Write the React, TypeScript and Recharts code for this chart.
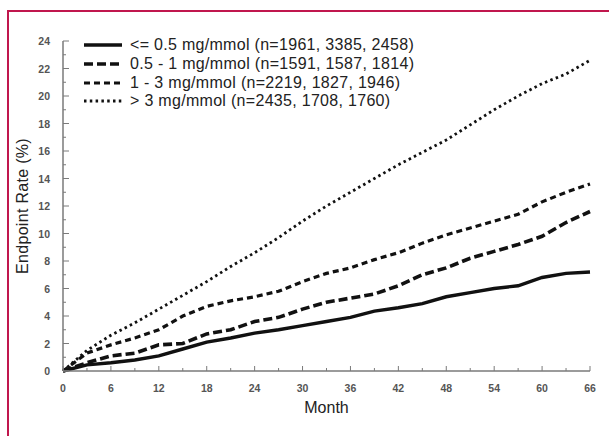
import React from "react";
import {LineChart, Line, XAxis, YAxis, Legend, Label} from "recharts";

// months since randomisation
const months = [0, 3, 6, 9, 12, 15, 18, 21, 24, 27, 30, 33, 36, 39, 42, 45, 48, 51, 54, 57, 60, 63, 66];

// cumulative endpoint rate (%) per albuminuria group
const rateLow = [0, 0.45, 0.6, 0.8, 1.1, 1.6, 2.1, 2.4, 2.75, 3.0, 3.3, 3.6, 3.9, 4.35, 4.6, 4.9, 5.4, 5.7, 6.0, 6.2, 6.8, 7.1, 7.2];
const rateMid = [0, 0.6, 1.1, 1.3, 1.9, 2.0, 2.7, 3.0, 3.6, 3.9, 4.5, 5.0, 5.3, 5.6, 6.2, 7.0, 7.5, 8.2, 8.7, 9.2, 9.8, 10.8, 11.6];
const rateHigh = [0, 1.3, 1.9, 2.4, 3.0, 4.0, 4.7, 5.1, 5.4, 5.8, 6.5, 7.1, 7.5, 8.1, 8.6, 9.3, 9.9, 10.4, 10.9, 11.4, 12.3, 13.0, 13.6];
const rateTop = [0, 1.5, 2.6, 3.5, 4.5, 5.5, 6.5, 7.6, 8.6, 9.7, 10.9, 12.0, 13.0, 14.0, 15.0, 15.9, 16.8, 17.9, 19.0, 20.0, 20.9, 21.6, 22.6];

const seriesNames = [
  "<= 0.5 mg/mmol (n=1961, 3385, 2458)",
  "0.5 - 1 mg/mmol (n=1591, 1587, 1814)",
  "1 - 3 mg/mmol (n=2219, 1827, 1946)",
  "> 3 mg/mmol (n=2435, 1708, 1760)",
];

const xTicks = [0, 3, 6, 9, 12, 15, 18, 21, 24, 27, 30, 33, 36, 39, 42, 45, 48, 51, 54, 57, 60, 63, 66];
const yTicks = [0, 1, 2, 3, 4, 5, 6, 7, 8, 9, 10, 11, 12, 13, 14, 15, 16, 17, 18, 19, 20, 21, 22, 23, 24];

const data = months.map((m, i) => ({
  month: m,
  low: rateLow[i],
  mid: rateMid[i],
  high: rateHigh[i],
  top: rateTop[i],
}));

const FONT = "'Liberation Sans', Arial, Helvetica, sans-serif";
const AXIS = "#7a7a7a";

const lineStyles = [
  {key: "low", dash: undefined, width: 3.4},
  {key: "mid", dash: "9 4", width: 3.6},
  {key: "high", dash: "6 4", width: 3.2},
  {key: "top", dash: "2.5 3.3", width: 2.8},
];

const XTick = (props: any) => {
  const {x, y, payload} = props;
  const major = payload.value % 6 === 0;
  return (
    <g>
      <line x1={x} x2={x} y1={y} y2={y - (major ? 5 : 3)} stroke={AXIS} strokeWidth={1}/>
      {major && (
        <text x={x} y={y + 17} textAnchor="middle" dominantBaseline="central"
              fontFamily={FONT} fontSize={10.5} fontWeight="bold" fill="#555">{payload.value}</text>
      )}
    </g>
  );
};

const YTick = (props: any) => {
  const {x, y, payload} = props;
  const major = payload.value % 2 === 0;
  return (
    <g>
      <line x1={x} x2={x + (major ? 6 : 3)} y1={y} y2={y} stroke={AXIS} strokeWidth={1}/>
      {major && (
        <text x={x - 13} y={y} textAnchor="end" dominantBaseline="central"
              fontFamily={FONT} fontSize={10.5} fontWeight="bold" fill="#555">{payload.value}</text>
      )}
    </g>
  );
};

const YLabel = (props: any) => {
  const vb = props.viewBox;
  const cx = vb.x + 22;
  const cy = vb.y + vb.height / 2;
  return (
    <text x={cx} y={cy} transform={`rotate(-90, ${cx}, ${cy})`} textAnchor="middle"
          dominantBaseline="central" fontFamily={FONT} fontSize={16} letterSpacing={0.3} fill="#222">
      Endpoint Rate (%)
    </text>
  );
};

const XLabel = (props: any) => {
  const vb = props.viewBox;
  return (
    <text x={vb.x + vb.width / 2} y={vb.y + 36} textAnchor="middle" dominantBaseline="central"
          fontFamily={FONT} fontSize={16} fill="#222">
      Month
    </text>
  );
};

const renderLegend = () => (
  <div style={{fontFamily: FONT, fontSize: 16, letterSpacing: 0.3, color: "#222"}}>
    {lineStyles.map((s, i) => (
      <div key={s.key} style={{display: "flex", alignItems: "center", height: 18.7}}>
        <svg width={40} height={10} style={{marginRight: 7}}>
          <line x1={1} x2={39} y1={5} y2={5} stroke="#111" strokeWidth={s.width}
                strokeDasharray={s.dash}/>
        </svg>
        <span style={{whiteSpace: "nowrap"}}>{seriesNames[i]}</span>
      </div>
    ))}
  </div>
);

export default function App() {
  return (
    <div style={{position: "fixed", left: 0, top: 0, width: 609, height: 436, background: "#fff", overflow: "hidden"}}>
      <div style={{
        position: "absolute", left: 7, top: 10, width: 640, height: 460,
        borderLeft: "2px solid #c0174d", borderTop: "2px solid #c0174d",
      }}/>
      <div style={{position: "absolute", left: 0, top: 0}}>
        <LineChart width={609} height={436} data={data}
                   margin={{top: 41, right: 19, bottom: 35, left: 0}}>
          <XAxis dataKey="month" type="number" domain={[0, 66]} ticks={xTicks} interval={0}
                 height={30} tickSize={0} tickMargin={0} tickLine={false} tick={<XTick/>}
                 axisLine={{stroke: AXIS, strokeWidth: 1.5}}>
            <Label content={<XLabel/>}/>
          </XAxis>
          <YAxis type="number" domain={[0, 24]} ticks={yTicks} interval={0} width={63}
                 tickSize={0} tickMargin={0} tickLine={false} tick={<YTick/>}
                 axisLine={{stroke: AXIS, strokeWidth: 1.5}}>
            <Label content={<YLabel/>}/>
          </YAxis>
          <Legend layout="vertical" align="center" verticalAlign="middle" content={renderLegend}
                  wrapperStyle={{left: 83, top: 36, width: 380}}/>
          {lineStyles.map((s, i) => (
            <Line key={s.key} dataKey={s.key} name={seriesNames[i]} type="linear"
                  stroke="#111" strokeWidth={s.width} strokeDasharray={s.dash}
                  dot={false} activeDot={false} isAnimationActive={false}/>
          ))}
        </LineChart>
      </div>
    </div>
  );
}
